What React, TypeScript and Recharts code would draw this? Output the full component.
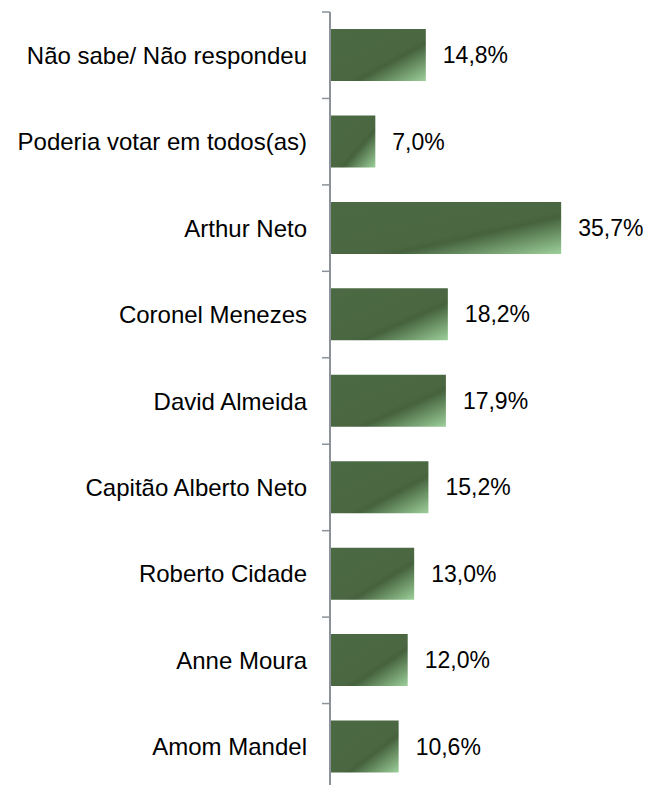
import React from 'react';
import { BarChart, Bar, XAxis, YAxis, LabelList } from 'recharts';

const candidates = [
  'Não sabe/ Não respondeu',
  'Poderia votar em todos(as)',
  'Arthur Neto',
  'Coronel Menezes',
  'David Almeida',
  'Capitão Alberto Neto',
  'Roberto Cidade',
  'Anne Moura',
  'Amom Mandel',
];
const shares = [14.8, 7.0, 35.7, 18.2, 17.9, 15.2, 13.0, 12.0, 10.6];

const data = candidates.map((name, i) => ({ name, value: shares[i] }));

const FONT = '"Liberation Sans", Arial, sans-serif';
const AXIS_GREY = '#8b9299';
const TICK_LEN = 8;
const LABEL_GAP = 15;

// category label plus a tick mark on the boundary above it (and below the last one)
function CandidateTick(props: any) {
  const { x, y, payload, index } = props;
  const half = payload.offset || 0;
  const axisX = x + LABEL_GAP + TICK_LEN;
  const isLast = index === candidates.length - 1;
  return (
    <g>
      <line x1={axisX - TICK_LEN} x2={axisX} y1={y - half} y2={y - half} stroke={AXIS_GREY} strokeWidth={1.5} />
      {isLast && (
        <line x1={axisX - TICK_LEN} x2={axisX} y1={y + half} y2={y + half} stroke={AXIS_GREY} strokeWidth={1.5} />
      )}
      <text x={x} y={y} dy="0.355em" textAnchor="end" fill="#000" fontSize={24} fontFamily={FONT}>
        {payload.value}
      </text>
    </g>
  );
}

export default function App() {
  return (
    <div style={{ position: 'absolute', left: 0, top: 0, background: '#fff' }}>
      <BarChart
        width={648}
        height={800}
        data={data}
        layout="vertical"
        margin={{ top: 12, right: 59, bottom: 10, left: 0 }}
        barSize={52}
      >
        <defs>
          <linearGradient id="barFill" x1="0" y1="0" x2="1" y2="1">
            <stop offset="0%" stopColor="#4b6a44" />
            <stop offset="58%" stopColor="#4a6741" />
            <stop offset="64%" stopColor="#45623d" />
            <stop offset="100%" stopColor="#9dd09b" />
          </linearGradient>
        </defs>
        <XAxis type="number" domain={[0, 40]} hide />
        <YAxis
          type="category"
          dataKey="name"
          width={330}
          axisLine={{ stroke: AXIS_GREY, strokeWidth: 2 }}
          tickLine={false}
          tickSize={0}
          tickMargin={LABEL_GAP + TICK_LEN}
          tick={<CandidateTick />}
          interval={0}
        />
        <Bar dataKey="value" fill="url(#barFill)" isAnimationActive={false}>
          <LabelList
            dataKey="value"
            position="right"
            offset={17}
            formatter={(v: any) => `${Number(v).toFixed(1).replace('.', ',')}%`}
            style={{ fill: '#000', fontSize: 23, fontFamily: FONT }}
          />
        </Bar>
      </BarChart>
    </div>
  );
}
